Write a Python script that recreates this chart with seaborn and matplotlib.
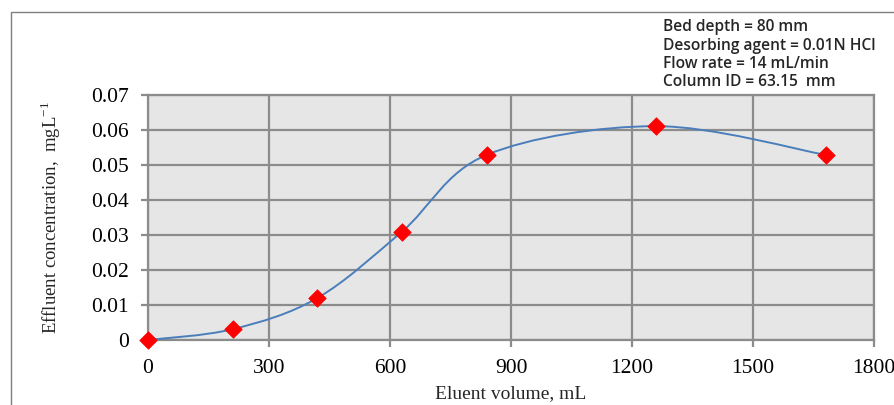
import numpy as np
import pandas as pd
import seaborn as sns
import matplotlib.pyplot as plt
from matplotlib.path import Path
from matplotlib.patches import PathPatch, Rectangle

# data
volume = [0, 210, 420, 630, 840, 1260, 1680]
conc = [0.0, 0.0031, 0.012, 0.031, 0.0529, 0.0611, 0.0529]
xticks = [0, 300, 600, 900, 1200, 1500, 1800]
yticks = [0, 0.01, 0.02, 0.03, 0.04, 0.05, 0.06, 0.07]
ytick_labels = ["0", "0.01", "0.02", "0.03", "0.04", "0.05", "0.06", "0.07"]
notes = ["Bed depth = 80 mm", "Desorbing agent = 0.01N HCl",
         "Flow rate = 14 mL/min", "Column ID = 63.15  mm"]

df = pd.DataFrame({"volume": volume, "conc": conc})

sns.set_theme(style="white")
plt.rcParams["font.family"] = ["Liberation Serif", "DejaVu Serif"]
plt.rcParams["mathtext.fontset"] = "custom"
plt.rcParams["mathtext.rm"] = "Liberation Serif"

grid_c = "#8c8c8c"
f = plt.figure(figsize=(8.95, 4.05), dpi=100)
ax1 = f.add_axes([0.1654, 0.1605, 0.8111, 0.6049])
ax1.set_facecolor("#e6e6e6")

# outer chart frame
f.patches.append(Rectangle((11 / 895, -0.1), 1.2, (405 - 12) / 405 + 0.1,
                           transform=f.transFigure, fill=False,
                           edgecolor="#7f7f7f", lw=1.0, zorder=0))

# smoothed line like excel (catmull-rom -> bezier)
pts = np.column_stack([volume, conc])
verts = [pts[0]]
codes = [Path.MOVETO]
n = len(pts)
for i in range(n - 1):
    p0 = pts[max(i - 1, 0)]
    p1 = pts[i]
    p2 = pts[i + 1]
    p3 = pts[min(i + 2, n - 1)]
    c1 = p1 + (p2 - p0) / 6.0
    c2 = p2 - (p3 - p1) / 6.0
    verts += [c1, c2, p2]
    codes += [Path.CURVE4] * 3
ax1.add_patch(PathPatch(Path(verts, codes), fill=False, edgecolor="#4a7ebb",
                        lw=1.4, zorder=3))

sns.scatterplot(data=df, x="volume", y="conc", marker="D", s=80,
                color="#ff0000", edgecolor="#ff0000", linewidth=0.5,
                ax=ax1, zorder=4, clip_on=False)

ax1.set_xlim(0, 1800)
ax1.set_ylim(0, 0.07)
ax1.set_xticks(xticks)
ax1.set_xticklabels([str(t) for t in xticks])
ax1.set_yticks(yticks)
ax1.set_yticklabels(ytick_labels)
ax1.grid(True, color=grid_c, lw=1.6)
ax1.set_axisbelow(True)
for sp in ax1.spines.values():
    sp.set_color(grid_c)
    sp.set_linewidth(1.6)
ax1.tick_params(axis="both", which="major", direction="out", length=5,
                width=1.6, color=grid_c, labelsize=15.5, pad=9, labelcolor="black",
                bottom=True, left=True)

ax1.set_xlabel("Eluent volume, mL", fontsize=14, labelpad=5)
ax1.set_ylabel("Effluent concentration,  mgL$^{\\mathregular{-1}}$", fontsize=13.5,
               labelpad=20)

# note box upper right
y0 = 27
for k, t in enumerate(notes):
    f.text(663 / 895, 1 - (y0 + 18.5 * k) / 405, t, fontsize=11.2,
           family=["Open Sans", "DejaVu Sans"], weight="semibold",
           va="center", ha="left", color="#262626")

f.savefig("out.png", dpi=100)
